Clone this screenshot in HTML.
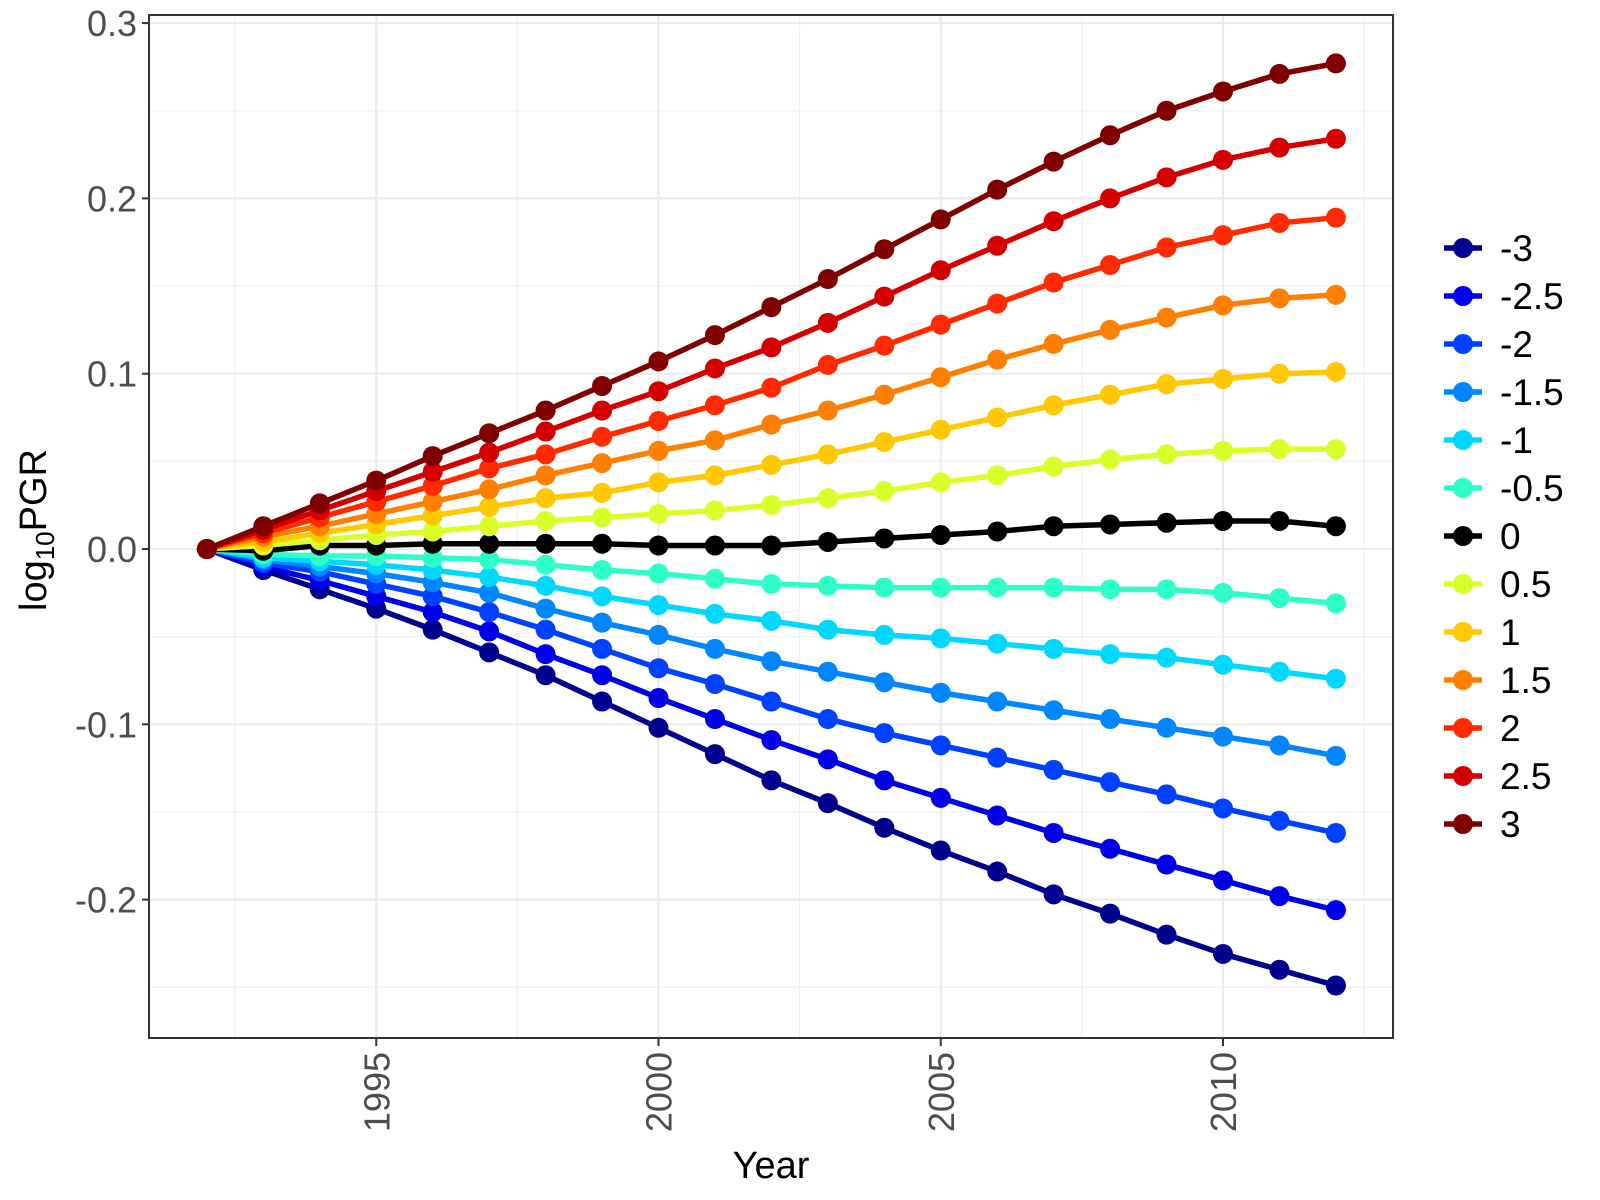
<!DOCTYPE html>
<html><head><meta charset="utf-8"><style>
html,body{margin:0;padding:0;background:#fff;}
svg{display:block;font-family:"Liberation Sans",Arial,sans-serif;}
</style></head><body>
<svg id="chart" width="1600" height="1200" viewBox="0 0 1600 1200"></svg>
<script>
const years = [1992,1993,1994,1995,1996,1997,1998,1999,2000,2001,2002,2003,2004,2005,2006,2007,2008,2009,2010,2011,2012];
const seriesNames = ["-3","-2.5","-2","-1.5","-1","-0.5","0","0.5","1","1.5","2","2.5","3"];
const seriesColors = ["#00008F","#0000E6","#0040FF","#0086FF","#00D8FF","#2EFFC8","#000000","#D8FF28","#FFC800","#FF7F00","#FF2A00","#D40000","#800000"];
const sM3  = [0,-0.012,-0.023,-0.034,-0.046,-0.059,-0.072,-0.087,-0.102,-0.117,-0.132,-0.145,-0.159,-0.172,-0.184,-0.197,-0.208,-0.220,-0.231,-0.240,-0.249];
const sM25 = [0,-0.010,-0.018,-0.027,-0.036,-0.047,-0.060,-0.072,-0.085,-0.097,-0.109,-0.120,-0.132,-0.142,-0.152,-0.162,-0.171,-0.180,-0.189,-0.198,-0.206];
const sM2  = [0,-0.008,-0.013,-0.020,-0.027,-0.036,-0.046,-0.057,-0.068,-0.077,-0.087,-0.097,-0.105,-0.112,-0.119,-0.126,-0.133,-0.140,-0.148,-0.155,-0.162];
const sM15 = [0,-0.006,-0.010,-0.014,-0.019,-0.025,-0.034,-0.042,-0.049,-0.057,-0.064,-0.070,-0.076,-0.082,-0.087,-0.092,-0.097,-0.102,-0.107,-0.112,-0.118];
const sM1  = [0,-0.005,-0.007,-0.009,-0.012,-0.016,-0.021,-0.027,-0.032,-0.037,-0.041,-0.046,-0.049,-0.051,-0.054,-0.057,-0.060,-0.062,-0.066,-0.070,-0.074];
const sM05 = [0,-0.003,-0.004,-0.004,-0.005,-0.006,-0.009,-0.012,-0.014,-0.017,-0.020,-0.021,-0.022,-0.022,-0.022,-0.022,-0.023,-0.023,-0.025,-0.028,-0.031];
const s0   = [0,-0.001,0.002,0.002,0.003,0.003,0.003,0.003,0.002,0.002,0.002,0.004,0.006,0.008,0.010,0.013,0.014,0.015,0.016,0.016,0.013];
const s05  = [0,0.002,0.005,0.008,0.010,0.013,0.016,0.018,0.020,0.022,0.025,0.029,0.033,0.038,0.042,0.047,0.051,0.054,0.056,0.057,0.057];
const s1   = [0,0.004,0.009,0.014,0.019,0.024,0.029,0.032,0.038,0.042,0.048,0.054,0.061,0.068,0.075,0.082,0.088,0.094,0.097,0.100,0.101];
const s15  = [0,0.007,0.013,0.020,0.027,0.034,0.042,0.049,0.056,0.062,0.071,0.079,0.088,0.098,0.108,0.117,0.125,0.132,0.139,0.143,0.145];
const s2   = [0,0.009,0.018,0.027,0.036,0.046,0.054,0.064,0.073,0.082,0.092,0.105,0.116,0.128,0.140,0.152,0.162,0.172,0.179,0.186,0.189];
const s25  = [0,0.011,0.022,0.033,0.044,0.055,0.067,0.079,0.090,0.103,0.115,0.129,0.144,0.159,0.173,0.187,0.200,0.212,0.222,0.229,0.234];
const s3   = [0,0.013,0.026,0.039,0.053,0.066,0.079,0.093,0.107,0.122,0.138,0.154,0.171,0.188,0.205,0.221,0.236,0.250,0.261,0.271,0.277];
const seriesValues = [sM3,sM25,sM2,sM15,sM1,sM05,s0,s05,s1,s15,s2,s25,s3];
const yTicks = [-0.2,-0.1,0.0,0.1,0.2,0.3];
const yTickLabels = ["-0.2","-0.1","0.0","0.1","0.2","0.3"];
const yMinor = [-0.25,-0.15,-0.05,0.05,0.15,0.25];
const xTicks = [1995,2000,2005,2010];
const xMinor = [1992.5,1997.5,2002.5,2007.5,2012.5];

const NS="http://www.w3.org/2000/svg";
const svg=document.getElementById('chart');
const P={l:149,r:1393,t:15,b:1038};
const xs=v=>1223+(v-2010)*56.45;
const ys=v=>549-v*1753;
function mk(tag,attrs,parent){const e=document.createElementNS(NS,tag);for(const k in attrs)e.setAttribute(k,attrs[k]);(parent||svg).appendChild(e);return e;}

const grid=mk('g',{});


yMinor.forEach(v=>mk('line',{x1:P.l,x2:P.r,y1:ys(v),y2:ys(v),stroke:'#f0f0f0','stroke-width':1.2},grid));
xMinor.forEach(v=>mk('line',{y1:P.t,y2:P.b,x1:xs(v),x2:xs(v),stroke:'#f0f0f0','stroke-width':1.2},grid));
yTicks.forEach(v=>mk('line',{x1:P.l,x2:P.r,y1:ys(v),y2:ys(v),stroke:'#ebebeb','stroke-width':2.2},grid));
xTicks.forEach(v=>mk('line',{y1:P.t,y2:P.b,x1:xs(v),x2:xs(v),stroke:'#ebebeb','stroke-width':2.2},grid));

const plot=mk('g',{});


seriesValues.forEach((vals,i)=>{
  const g=mk('g',{},plot);
  
  
  const pts=vals.map((v,j)=>xs(years[j])+','+ys(v)).join(' ');
  const pl=mk('polyline',{points:pts,fill:'none',stroke:seriesColors[i],'stroke-width':5.5,'stroke-linejoin':'round'},g);
  
  
  vals.forEach((v,j)=>{
    const c=mk('circle',{cx:xs(years[j]),cy:ys(v),r:10,fill:seriesColors[i]},g);
    
    
  });
});

const frame=mk('rect',{x:P.l,y:P.t,width:P.r-P.l,height:P.b-P.t,fill:'none',stroke:'#333','stroke-width':2});



const yax=mk('g',{});


yTicks.forEach((v,i)=>{
  mk('line',{x1:P.l-7,x2:P.l,y1:ys(v),y2:ys(v),stroke:'#333','stroke-width':2},yax);
  const t=mk('text',{x:P.l-12,y:ys(v)+13,'text-anchor':'end','font-size':36,fill:'#4d4d4d'},yax);
  t.textContent=yTickLabels[i];
  
  
});
const xax=mk('g',{});


xTicks.forEach(v=>{
  mk('line',{x1:xs(v),x2:xs(v),y1:P.b,y2:P.b+8,stroke:'#333','stroke-width':2},xax);
  const t=mk('text',{x:0,y:0,'text-anchor':'end','font-size':36,fill:'#4d4d4d',transform:`translate(${xs(v)+13},${P.b+14}) rotate(-90)`},xax);
  t.textContent=String(v);
  
  
});
const xt=mk('text',{x:771,y:1178,'text-anchor':'middle','font-size':38,fill:'#000'});
xt.textContent='Year';


const yt=mk('text',{x:0,y:0,'text-anchor':'middle','font-size':38,fill:'#000',transform:'translate(46,530) rotate(-90)'});
yt.innerHTML='log<tspan font-size="26" dy="8">10</tspan><tspan dy="-8">PGR</tspan>';



const leg=mk('g',{});


seriesNames.forEach((n,i)=>{
  const y=248+i*48;
  const e=mk('g',{},leg);
  
  
  mk('line',{x1:1444,x2:1482,y1:y,y2:y,stroke:seriesColors[i],'stroke-width':5.5},e);
  mk('circle',{cx:1463,cy:y,r:10,fill:seriesColors[i]},e);
  const t=mk('text',{x:1500,y:y+13,'font-size':37,fill:'#000'},e);
  t.textContent=n;
});
</script>
</body></html>
